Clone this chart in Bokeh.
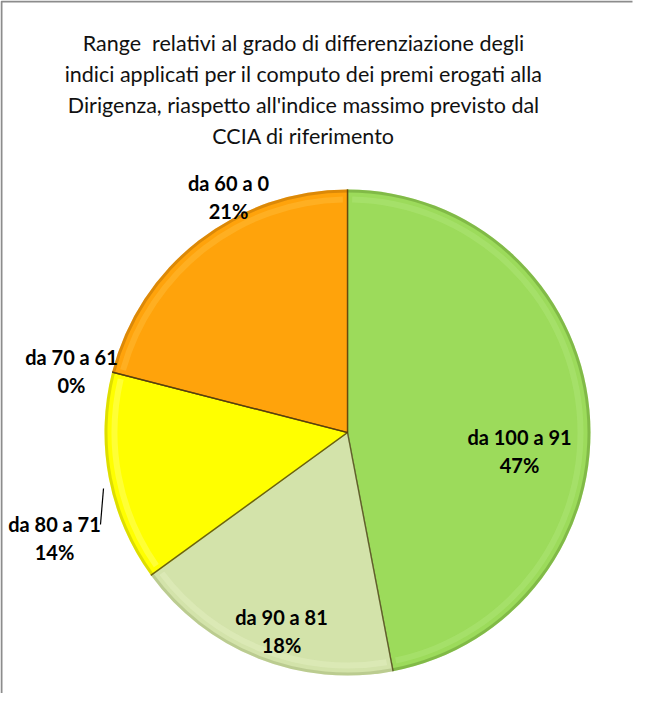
import numpy as np
from bokeh.plotting import figure
from bokeh.models import Range1d
from bokeh.embed import file_html
from bokeh.resources import INLINE
from bokeh.core.properties import value

# ---- data ----
title_lines = [
    "Range\u00a0 relativi al grado di differenziazione degli",
    "indici applicati per il computo dei premi erogati alla",
    "Dirigenza, riaspetto all'indice massimo previsto dal",
    "CCIA di riferimento",
]
categories = ["da 100 a 91", "da 90 a 81", "da 80 a 71", "da 70 a 61", "da 60 a 0"]
shares = [47, 18, 14, 0, 21]
colors = ["#9cdb5b", "#d3e3aa", "#ffff00", "#ffd000", "#ffa30b"]
dark = ["#4f7f22", "#8fa060", "#a0a000", "#a08000", "#9a5a00"]
light = ["#b8ec84", "#eaf4cc", "#ffff9a", "#ffe880", "#ffc64a"]

# label positions (screen px in the reference, centre of first line)
label_pos = [(527, 444), (289, 624), (62, 531), (79, 364), (236, 190)]

W, H = 633, 693
p = figure(width=W, height=H, output_backend="svg", toolbar_location=None,
           x_axis_type=None, y_axis_type=None, min_border=0,
           x_range=Range1d(0, W), y_range=Range1d(0, H))
p.outline_line_color = None
p.grid.visible = False
p.background_fill_color = "white"


def fx(x):
    return x - 8


def fy(y):
    return H + 8 - y


# chart frame (top + left visible)
p.line([1, 1, W - 1], [0, fy(9), fy(9)], line_color="#8c8c8c", line_width=2)

# title
for i, t in enumerate(title_lines):
    p.text(x=[fx(311)], y=[fy(50 + i * 31.3)], text=[t], text_align="center",
           text_baseline="middle", text_font=value("Lato"),
           text_font_size="21.5px", text_color="#111111")

# pie
cx, cy, R = fx(355), fy(440), 243
vals = np.array(shares, dtype=float)
frac = vals / vals.sum()
ends = np.pi / 2 - 2 * np.pi * np.cumsum(frac)
starts = np.concatenate([[np.pi / 2], ends[:-1]])

for i in range(len(vals)):
    if frac[i] <= 0:
        continue
    s, e = starts[i], ends[i]
    # base
    p.wedge(x=[cx], y=[cy], radius=[R], start_angle=[s], end_angle=[e],
            direction="clock", fill_color=colors[i], line_color=None)
    # outer dark rim
    p.annular_wedge(x=[cx], y=[cy], inner_radius=[R - 3], outer_radius=[R],
                    start_angle=[s], end_angle=[e], direction="clock",
                    fill_color=dark[i], fill_alpha=0.35, line_color=None)
    # highlight band
    p.annular_wedge(x=[cx], y=[cy], inner_radius=[R - 13], outer_radius=[R - 7],
                    start_angle=[s - 0.02], end_angle=[e + 0.02], direction="clock",
                    fill_color=light[i], fill_alpha=0.35, line_color=None)
    # radial edges
    for a in (s, e):
        p.line([cx, cx + R * np.cos(a)], [cy, cy + R * np.sin(a)],
               line_color=dark[i], line_width=1.5, line_alpha=0.7)

# separators between slices
for a in starts:
    p.line([cx, cx + R * np.cos(a)], [cy, cy + R * np.sin(a)],
           line_color="#4a3a10", line_width=1.2, line_alpha=0.7)

# leader line for small label
p.line([fx(111), fx(108)], [fy(496), fy(532)], line_color="black", line_width=1.2)

# labels
for (lx, ly), c, v in zip(label_pos, categories, shares):
    p.text(x=[fx(lx)], y=[fy(ly)], text=[c], text_align="center",
           text_baseline="middle", text_font=value("Lato"),
           text_font_style="bold", text_font_size="20px", text_color="black")
    p.text(x=[fx(lx)], y=[fy(ly + 28)], text=[f"{v}%"], text_align="center",
           text_baseline="middle", text_font=value("Lato"),
           text_font_style="bold", text_font_size="20px", text_color="black")

open("out.html", "w").write(file_html(p, INLINE))
